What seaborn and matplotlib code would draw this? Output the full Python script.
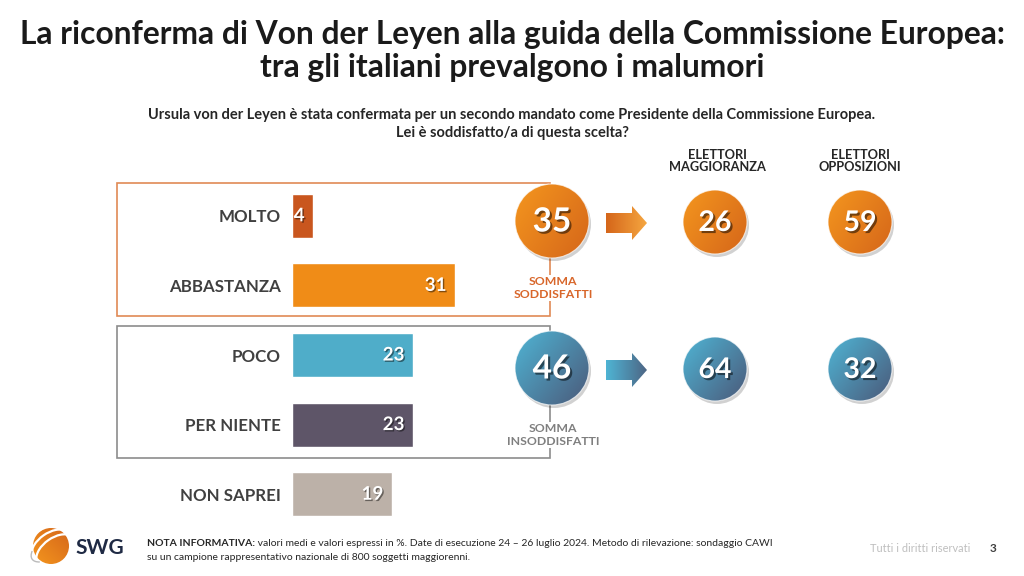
import numpy as np
import pandas as pd
import matplotlib.pyplot as plt
import matplotlib.patheffects as pe
from matplotlib.patches import Circle, Rectangle, Polygon, Arc
import seaborn as sns

# Data

categories = ['MOLTO', 'ABBASTANZA', 'POCO', 'PER NIENTE', 'NON SAPREI']
values = [4, 31, 23, 23, 19]
bar_colors = ['#C9561E', '#F08C17', '#4FADC9', '#5E5568', '#BCB1A8']

totals = [35, 46]
total_labels = ['SOMMA\nSODDISFATTI', 'SOMMA\nINSODDISFATTI']
groups = ['ELETTORI\nMAGGIORANZA', 'ELETTORI\nOPPOSIZIONI']
maggioranza = [26, 64]
opposizioni = [59, 32]

df = pd.DataFrame({'cat': categories, 'value': values})

sns.set_style('white')
plt.rcParams['font.family'] = ['Lato', 'DejaVu Sans']

fig = plt.figure(figsize=(10.24, 5.76), dpi=100)

# Bars

ax = fig.add_axes([292 / 1024, 1 - 529 / 576, 210 / 1024, 348 / 576])
sns.barplot(data=df, x='value', y='cat', hue='cat', palette=bar_colors, saturation=1,
            orient='h', width=0.63, legend=False, ax=ax)
ax.set_xlim(0, 40)
ax.set_ylim(4.5, -0.5)
ax.set_xlabel('')
ax.set_ylabel('')
ax.set_xticks([])
ax.tick_params(axis='y', length=0, pad=8)
for lab in ax.get_yticklabels():
    lab.set_fontweight('bold')
    lab.set_fontsize(12.2)
    lab.set_color('#404040')
for s in ax.spines.values():
    s.set_visible(False)
ax.patch.set_alpha(0)
shadow = [pe.withSimplePatchShadow(offset=(1, -1), shadow_rgbFace='k', alpha=0.45)]
for i, v in enumerate(values):
    ax.text(v - 1.6, i, str(v), ha='right', va='center', color='white',
            fontsize=13.5, fontweight='bold', path_effects=shadow)

# Overlay in pixel coordinates

ov = fig.add_axes([0, 0, 1, 1])
ov.set_xlim(0, 1024)
ov.set_ylim(576, 0)
ov.axis('off')

ov.text(512, 51, 'La riconferma di Von der Leyen alla guida della Commissione Europea:\n'
        'tra gli italiani prevalgono i malumori', ha='center', va='center',
        fontsize=22.9, fontweight='bold', color='#1a1a1a', linespacing=1.15)
ov.text(512, 124, 'Ursula von der Leyen è stata confermata per un secondo mandato come '
        'Presidente della Commissione Europea.\nLei è soddisfatto/a di questa scelta?',
        ha='center', va='center', fontsize=10.5, fontweight='bold', color='#262626',
        linespacing=1.3)

# group boxes
ov.add_patch(Rectangle((117, 183), 433, 133, fill=False, ec='#E08A55', lw=1.2))
ov.add_patch(Rectangle((117, 326), 433, 132, fill=False, ec='#8C8C8C', lw=1.2))

orange_cm = plt.matplotlib.colors.LinearSegmentedColormap.from_list('o', ['#D5661A', '#F4961E'])
blue_cm = plt.matplotlib.colors.LinearSegmentedColormap.from_list('b', ['#4FB4D4', '#4B5A7A'])
gx, gy = np.meshgrid(np.linspace(0, 1, 60), np.linspace(0, 1, 60))


def bubble(cx, cy, r, val, cmap, fs):
    ov.add_patch(Circle((cx + 2, cy + 3), r, color='#000000', alpha=0.18, lw=0))
    ring = Circle((cx, cy), r, fc='none', ec='#ffffff', lw=0)
    ov.add_patch(ring)
    grad = (gx * 0.55 + gy * 0.45) if cmap is blue_cm else (1 - gx) * 0.6 + (1 - gy) * 0.4
    im = ov.imshow(grad, cmap=cmap, extent=(cx - r, cx + r, cy + r, cy - r),
                   interpolation='bicubic', zorder=2)
    im.set_clip_path(ring)
    ov.add_patch(Circle((cx, cy), r, fc='none', ec='#ffffff', lw=0.8, alpha=0.7, zorder=3))
    ov.text(cx, cy + 1, str(val), ha='center', va='center', color='white', fontsize=fs,
            fontweight='bold', zorder=4,
            path_effects=[pe.withSimplePatchShadow(offset=(1.5, -1.5), shadow_rgbFace='k', alpha=0.5)])
    ov.set_xlim(0, 1024)
    ov.set_ylim(576, 0)


def arrow(x0, cy, cmap):
    pts = [(x0, cy - 10), (x0 + 26, cy - 10), (x0 + 26, cy - 17), (x0 + 41, cy),
           (x0 + 26, cy + 17), (x0 + 26, cy + 10), (x0, cy + 10)]
    poly = Polygon(pts, closed=True, fc='none', lw=0)
    ov.add_patch(poly)
    im = ov.imshow(gx, cmap=cmap, extent=(x0, x0 + 41, cy + 17, cy - 17),
                   interpolation='bicubic', zorder=2)
    im.set_clip_path(poly)
    ov.set_xlim(0, 1024)
    ov.set_ylim(576, 0)


arrow_cms = [plt.matplotlib.colors.LinearSegmentedColormap.from_list('oa', ['#D5661A', '#F5A640']),
             plt.matplotlib.colors.LinearSegmentedColormap.from_list('ba', ['#4FB4D4', '#4D6685'])]
row_y = [221, 368]
cmaps = [orange_cm, blue_cm]
label_colors = ['#D8662A', '#7F7F7F']
for k in range(2):
    cy = row_y[k]
    bubble(552, cy, 37, totals[k], cmaps[k], 24)
    arrow(606, cy + 2, arrow_cms[k])
    bubble(715, cy + 1, 32, maggioranza[k], cmaps[k], 20.5)
    bubble(860, cy + 1, 32, opposizioni[k], cmaps[k], 20.5)
    ov.text(553, cy + 67, total_labels[k], ha='center', va='center', fontsize=8.8,
            fontweight='bold', color=label_colors[k], linespacing=1.25,
            bbox=dict(fc='white', ec='none', pad=1), zorder=3)

ov.text(717, 161, groups[0], ha='center', va='center', fontsize=9.2, fontweight='bold',
        color='#262626', linespacing=1.0)
ov.text(860, 161, groups[1], ha='center', va='center', fontsize=9.2, fontweight='bold',
        color='#262626', linespacing=1.0)

# Footer

logo = Circle((51, 546), 18, fc='none', lw=0)
ov.add_patch(logo)
im = ov.imshow((1 - gx) * 0.5 + gy * 0.5, cmap=orange_cm, extent=(33, 69, 564, 528),
               interpolation='bicubic', zorder=2)
im.set_clip_path(logo)
for off in [-8, 0, 8]:
    ov.add_patch(Arc((51 + off * 0.6, 546 + off * 0.6), 44, 26, angle=-35, theta1=190, theta2=350,
                     color='white', lw=1.6, zorder=3))
ov.add_patch(Arc((51, 546), 46, 22, angle=-35, theta1=160, theta2=200, color='#BBBBBB', lw=1, zorder=3))
ov.set_xlim(0, 1024)
ov.set_ylim(576, 0)
ov.text(75, 548, 'SWG', ha='left', va='center', fontsize=15, fontweight='bold', color='#1F2A44')

t_bold = ov.text(147, 543, 'NOTA INFORMATIVA:', ha='left', va='center', fontsize=7.45,
                 fontweight='bold', color='#262626')
ov.annotate(' valori medi e valori espressi in %. Date di esecuzione 24 – 26 luglio 2024. '
            'Metodo di rilevazione: sondaggio CAWI', xy=(1, 0), xycoords=t_bold,
            ha='left', va='bottom', fontsize=7.45, color='#262626')
ov.text(147, 558, 'su un campione rappresentativo nazionale di 800 soggetti maggiorenni.',
        ha='left', va='center', fontsize=7.45, color='#262626')
ov.text(970, 549, 'Tutti i diritti riservati', ha='right', va='center', fontsize=7.9,
        color='#BFBFBF')
ov.text(993, 549, '3', ha='center', va='center', fontsize=8.5, fontweight='bold', color='#404040')

fig.savefig('out.png', dpi=100)
